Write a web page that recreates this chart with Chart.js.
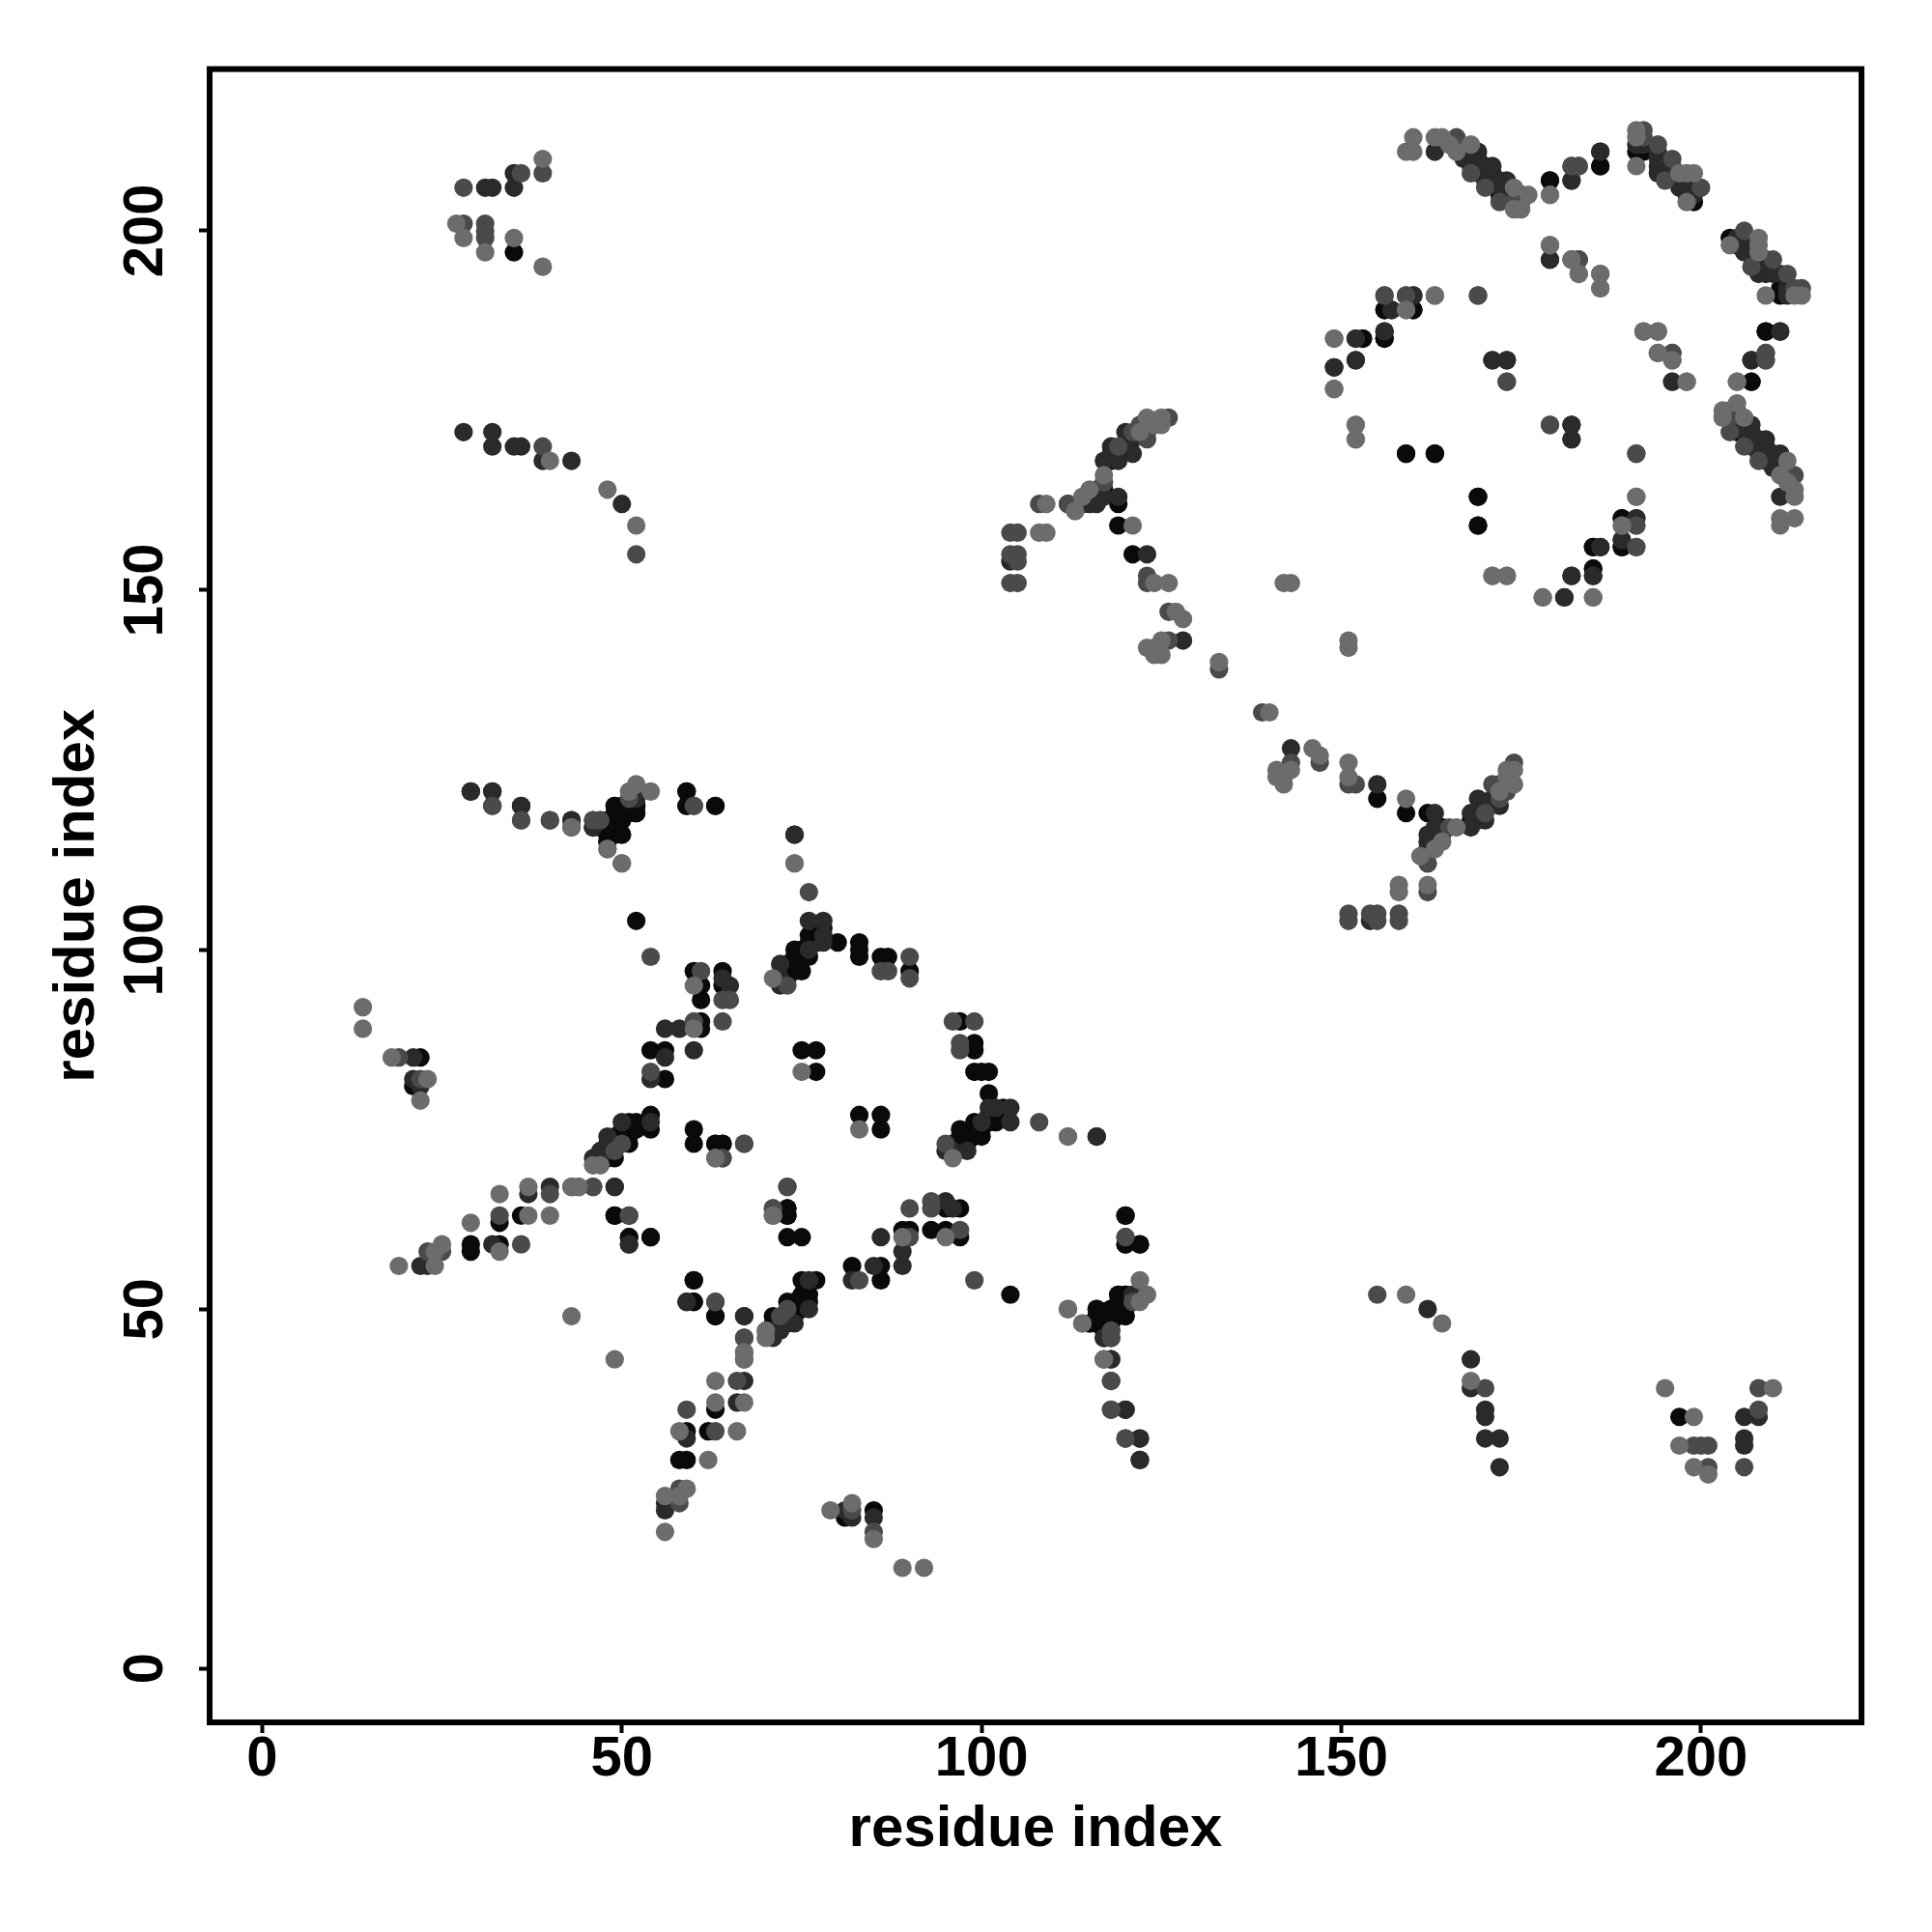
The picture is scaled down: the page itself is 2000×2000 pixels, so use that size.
<!DOCTYPE html>
<html>
<head>
<meta charset="utf-8">
<style>html,body{margin:0;padding:0;background:#fff}canvas{display:block}</style>
<script src="https://cdn.jsdelivr.net/npm/chart.js@4/dist/chart.umd.min.js"></script>
</head>
<body>
<canvas id="c" width="2000" height="2000"></canvas>
<script>
const tickValues = [0, 50, 100, 150, 200];
const axisTitle = "residue index";

// residue contacts, grouped by grey level
const contactsBlack = [[35,197],[22,85],[21,81],[29,58],[29,59],[33,59],[33,62],[36,63],[49,63],[51,60],[54,60],
[47,71],[48,71],[48,73],[49,71],[49,73],[49,74],[50,74],[50,75],[51,73],[51,74],[51,75],[51,76],[52,75],[52,76],[54,75],[54,77],
[60,75],[60,73],[63,73],[64,73],[60,54],[60,51],[63,49],[54,86],[56,86],[56,82],[61,89],[61,90],[61,93],[61,95],[64,95],[60,97],[64,97],[52,104],
[73,96],[73,98],[74,97],[74,98],[74,99],[74,100],[75,97],[75,100],[76,99],[76,101],[76,102],[77,101],[77,102],[78,103],[80,101],[74,116],
[75,86],[77,86],[77,83],[83,99],[83,100],[83,101],[86,99],[87,99],[90,97],[73,63],[73,64],
[48,115],[48,116],[115,48],[116,48],[116,49],[116,50],[117,47],[117,48],[118,47],[118,48],[118,49],[118,50],[119,52],[119,50],[119,49],[120,49],[120,50],[120,51],[120,52],[120,63],[120,59],[122,59],[120,36],
[117,164],[118,168],[119,159],[119,162],[119,169],[121,155],
[169,209],[170,208],[172,205],[168,210],[179,207],[186,209],[191,211],[192,211],[198,206],[198,205],[199,204],
[156,189],[160,189],[153,185],[156,185],[207,179],[209,186],[211,186],[159,169],[163,169],[169,163],[169,159],[189,160],[189,156],[185,156],[186,156],[185,153]];

const contactsDark = [[35,208],[35,206],[31,206],[32,206],[28,172],[32,172],[32,170],[35,170],[36,170],[39,168],[43,168],[50,162],[21,85],[21,82],[22,81],
[22,56],[23,56],[32,59],[51,59],[37,66],[40,67],[49,67],[46,71],[47,72],[48,72],[48,74],[50,76],[54,76],
[59,51],[67,49],[56,85],[54,82],[60,86],[56,89],[58,89],[65,95],[64,96],[72,95],[72,96],[72,98],[76,100],[76,104],[78,101],[78,102],[78,104],
[29,122],[32,122],[32,120],[36,120],[40,118],[43,118],[46,118],[117,46],[118,43],[121,52],[122,32],[122,29],[116,74],
[104,154],[114,162],[115,162],[115,163],[116,162],[116,163],[116,164],[117,163],[117,168],[118,169],[118,170],[119,163],[119,168],[120,170],[120,172],[121,169],[121,171],[123,155],[123,172],[128,143],
[163,211],[169,211],[167,210],[168,209],[169,210],[170,209],[171,209],[169,208],[170,207],[171,207],[172,206],[173,207],[173,205],[175,205],[171,208],[172,207],[182,207],[186,211],
[191,212],[192,212],[194,210],[194,209],[195,209],[196,208],[197,206],[199,205],[195,208],[194,208],[197,207],[199,206],[194,211],[196,209],
[179,196],[160,191],[157,189],[152,185],[156,186],[152,182],[149,181],[171,182],[173,182],[196,179],[207,182],[182,173],[182,171],[191,160],[189,157],[185,152],[182,152],[181,149]];

const contactsGrey = [[39,208],[36,208],[28,206],[28,201],[31,201],[31,200],[31,199],[39,170],[52,155],[19,85],[22,82],
[23,58],[25,58],[36,59],[33,63],[40,66],[46,67],[51,63],[49,72],[50,73],[64,71],[67,73],
[63,51],[67,46],[67,44],[67,43],[54,83],[60,90],[64,90],[64,93],[65,93],[61,97],[54,99],[73,95],[76,108],
[86,97],[87,97],[90,96],[90,99],[73,67],[71,64],[36,118],[43,117],[47,118],
[112,50],[118,46],[118,40],[120,60],[118,36],[120,32],[121,51],[104,151],[104,155],[104,158],[105,154],[105,151],[105,155],[105,158],
[108,162],[112,162],[117,165],[119,170],[121,172],[122,173],[123,152],[123,151],[123,171],[126,174],[126,147],[126,143],[133,139],
[166,213],[166,212],[168,208],[170,206],[172,204],[175,204],[174,204],[182,209],[183,209],[192,214],[192,213],[194,212],[196,210],[195,207],[200,206],
[183,196],[156,191],[159,191],[169,191],[173,179],[196,183],[196,182],[198,179],[209,183],[209,182],[179,173],[191,169],[191,159],[191,156]];

const contactsLight = [[39,210],[27,201],[28,199],[35,199],[31,197],[39,195],[40,168],[48,164],[52,159],[14,92],[14,89],[18,85],[23,82],[22,79],
[19,56],[24,56],[24,58],[25,59],[29,62],[33,58],[33,66],[37,63],[37,67],[40,63],[43,67],[44,67],
[46,70],[47,70],[63,71],[43,49],[75,83],[60,89],[60,95],[71,96],[74,112],[71,63],
[48,114],[50,112],[114,48],[117,43],[122,51],[122,54],[123,52],[112,74],
[108,158],[109,158],[109,162],[113,161],[114,163],[115,164],[117,166],[121,159],[122,172],[124,151],[126,151],[123,174],[124,173],[125,174],[125,173],[127,147],[128,146],[125,143],[123,142],[124,142],[124,141],[125,141],[133,140],[142,151],[143,151],
[159,211],[160,211],[160,213],[163,213],[164,213],[165,212],[166,211],[168,212],[174,206],[174,203],[175,203],[176,205],[179,205],
[191,214],[191,213],[191,209],[197,208],[198,208],[199,208],[198,204],
[179,198],[182,196],[183,194],[186,194],[186,192],[163,191],[159,189],[149,185],[149,178],[192,186],[194,186],[194,183],[205,179],[152,173],[152,171],[191,163],[189,159],[171,152],[173,152],[178,149],[185,149]];

const contactsExtra = [[46,117],[47,117],[49,116],[49,118],[50,116],[50,118],[51,119],[52,119],[52,120],[52,121],[49,120],[59,120],[59,122],[60,120],[63,120],[112,162],
[117,164],[162,114]];

const mirrored = pairs => pairs.flatMap(([a, b]) => [{x: a, y: b}, {x: b, y: a}]);

new Chart(document.getElementById('c'), {
  type: 'scatter',
  data: { datasets: [
    { data: mirrored(contactsLight), backgroundColor: '#6c6c6c' },
    { data: mirrored(contactsGrey), backgroundColor: '#4a4a4a' },
    { data: mirrored(contactsDark), backgroundColor: '#2a2a2a' },
    { data: mirrored(contactsBlack), backgroundColor: '#0a0a0a' },
    { data: mirrored(contactsExtra), backgroundColor: '#0e0e0e' }
  ].map(d => Object.assign(d, {pointRadius: 9.6, pointBorderWidth: 0, pointHoverRadius: 9.6})) },
  options: {
    responsive: false,
    animation: false,
    events: [],
    layout: { padding: { top: 71.5, right: 73, left: 0, bottom: 0 } },
    plugins: { legend: { display: false }, tooltip: { enabled: false } },
    scales: {
      x: {
        type: 'linear', min: -7.3, max: 222.3,
        afterFit: s => { s.height = 217; },
        afterBuildTicks: s => { s.ticks = tickValues.map(v => ({value: v})); },
        grid: { drawOnChartArea: false, drawTicks: true, tickLength: 11, tickWidth: 4, tickColor: '#000' },
        border: { display: false },
        ticks: { color: '#000', font: { family: 'Liberation Sans', weight: 'bold', size: 58 }, padding: -7, maxRotation: 0, minRotation: 0, autoSkip: false },
        title: { display: true, text: axisTitle, color: '#000', font: { family: 'Liberation Sans', weight: 'bold', size: 60 }, padding: { top: 0, bottom: 70 } }
      },
      y: {
        type: 'linear', min: -7.5, max: 222.5,
        afterFit: s => { s.width = 217; },
        afterBuildTicks: s => { s.ticks = tickValues.map(v => ({value: v})); },
        grid: { drawOnChartArea: false, drawTicks: true, tickLength: 11, tickWidth: 4, tickColor: '#000' },
        border: { display: false },
        ticks: { color: '#000', font: { family: 'Liberation Sans', weight: 'bold', size: 58 }, padding: 5.5, minRotation: 90, maxRotation: 90, align: 'center', crossAlign: 'center', autoSkip: false },
        title: { display: true, text: axisTitle, color: '#000', font: { family: 'Liberation Sans', weight: 'bold', size: 60 }, padding: { top: 44, bottom: 0 } }
      }
    }
  },
  plugins: [{
    id: 'frame',
    afterDraw(chart) {
      const {ctx, chartArea: a} = chart;
      ctx.save();
      ctx.strokeStyle = '#000';
      ctx.lineWidth = 6;
      ctx.strokeRect(a.left, a.top, a.right - a.left, a.bottom - a.top);
      ctx.restore();
    }
  }]
});
</script>
</body>
</html>
